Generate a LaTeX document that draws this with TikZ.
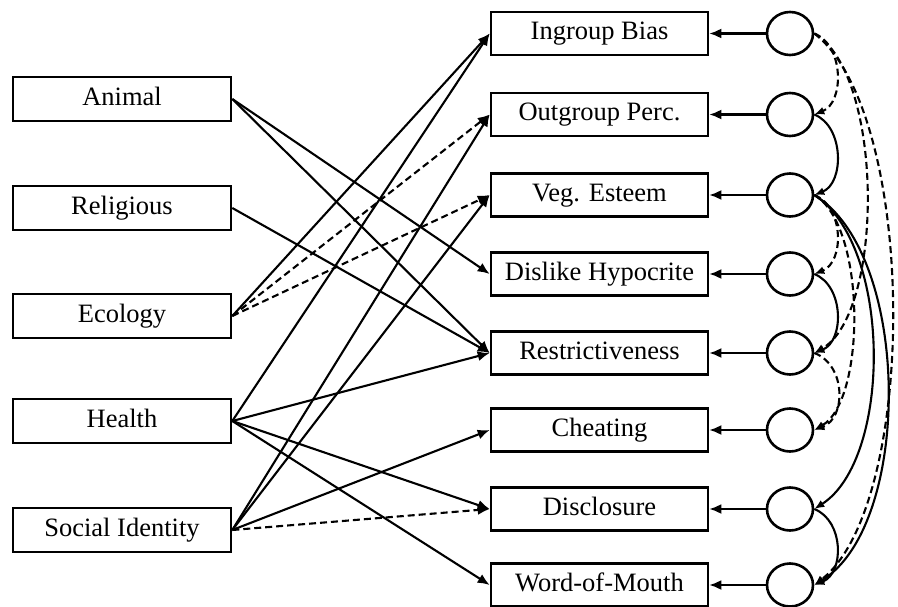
\documentclass[tikz,border=0pt]{standalone}
\usepackage{fontspec}
\setmainfont{Liberation Serif}
\usetikzlibrary{arrows.meta,shapes.geometric}
\begin{document}
\begin{tikzpicture}[x=1pt,y=-1pt,
  txt/.style={font=\fontsize{26.5}{30}\selectfont,text height=17.5pt,text depth=5pt},
  leftbox/.style={draw,line width=2.6pt,minimum width=218pt,minimum height=44pt,inner sep=0pt,txt},
  midbox/.style={draw,line width=2.6pt,minimum width=217pt,minimum height=43pt,inner sep=0pt,txt},
  lat/.style={draw,ellipse,line width=2.6pt,minimum width=46pt,minimum height=43pt,inner sep=0pt},
  arr/.style={line width=2.1pt,-{Latex[length=12pt,width=10pt]}},
  darr/.style={arr,dash pattern=on 7pt off 4pt},
  cov/.style={line width=2.1pt,-{Latex[length=10pt,width=8pt]}},
  dcov/.style={cov,dash pattern=on 7pt off 4pt}]
\useasboundingbox (0,0) rectangle (898,607);
% left boxes
\node[leftbox] (an) at (122,99) {Animal};
\node[leftbox] (re) at (122,208) {Religious};
\node[leftbox] (ec) at (122,316) {Ecology};
\node[leftbox] (he) at (122,421) {Health};
\node[leftbox] (si) at (122,530) {Social Identity};
% middle boxes
\node[midbox] (ib) at (599.5,33.5) {Ingroup Bias};
\node[midbox] (op) at (599.5,114.5) {Outgroup Perc.};
\node[midbox] (ve) at (599.5,195) {Veg. Esteem};
\node[midbox] (dh) at (599.5,274) {Dislike Hypocrite};
\node[midbox] (rs) at (599.5,353) {Restrictiveness};
\node[midbox] (ch) at (599.5,430) {Cheating};
\node[midbox] (di) at (599.5,509) {Disclosure};
\node[midbox] (wm) at (599.5,585) {Word-of-Mouth};
% latent circles
\node[lat] (c1) at (790,33.5) {};
\node[lat] (c2) at (790,114.5) {};
\node[lat] (c3) at (790,195) {};
\node[lat] (c4) at (790,274) {};
\node[lat] (c5) at (790,353) {};
\node[lat] (c6) at (790,430) {};
\node[lat] (c7) at (790,509) {};
\node[lat] (c8) at (790,585) {};
% circle to box
\foreach \c/\b in {c1/ib,c2/op,c3/ve,c4/dh,c5/rs,c6/ch,c7/di,c8/wm}
  \draw[arr] (\c.west) -- (\b.east);
% paths from predictors
\draw[arr] (an.east) -- (dh.west);
\draw[arr] (an.east) -- (rs.west);
\draw[arr] (re.east) -- (rs.west);
\draw[arr] (ec.east) -- (ib.west);
\draw[darr] (ec.east) -- (op.west);
\draw[darr] (ec.east) -- (ve.west);
\draw[arr] (he.east) -- (ib.west);
\draw[arr] (he.east) -- (rs.west);
\draw[arr] (he.east) -- (di.west);
\draw[arr] (he.east) -- (wm.west);
\draw[arr] (si.east) -- (op.west);
\draw[arr] (si.east) -- (ve.west);
\draw[arr] (si.east) -- (ch.west);
\draw[darr] (si.east) -- (di.west);
% covariances
\draw[dcov] (c1.east) .. controls +(30,12) and +(30,-12) .. (c2.east);
\draw[dcov] (c1.east) .. controls +(70,40) and +(70,-40) .. (c5.east);
\draw[dcov] (c1.east) .. controls +(104,80) and +(104,-80) .. (c8.east);
\draw[cov] (c2.east) .. controls +(30,12) and +(30,-12) .. (c3.east);
\draw[dcov] (c3.east) .. controls +(30,12) and +(30,-12) .. (c4.east);
\draw[dcov] (c3.east) .. controls +(52,30) and +(52,-30) .. (c6.east);
\draw[cov] (c3.east) .. controls +(78,50) and +(78,-50) .. (c7.east);
\draw[cov] (c3.east) .. controls +(98,60) and +(98,-60) .. (c8.east);
\draw[cov] (c4.east) .. controls +(30,12) and +(30,-12) .. (c5.east);
\draw[dcov] (c5.east) .. controls +(32,12) and +(32,-12) .. (c6.east);
\draw[cov] (c7.east) .. controls +(30,12) and +(30,-12) .. (c8.east);
\end{tikzpicture}
\end{document}
